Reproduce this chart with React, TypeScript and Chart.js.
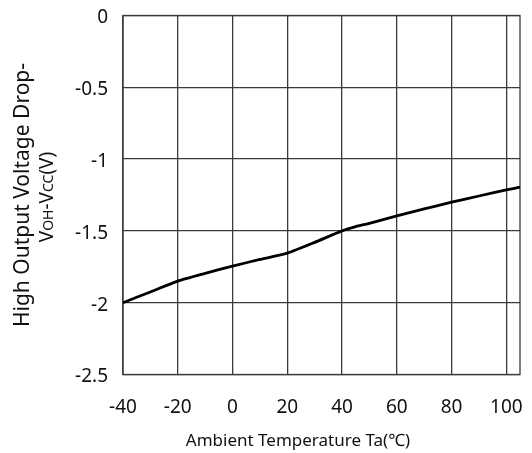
import React, { useEffect, useRef } from "react";
import { Chart, registerables } from "chart.js";

Chart.register(...registerables);

// ---- data ----
const temperatures = [-40, -30, -20, -10, 0, 10, 20, 30, 40, 45, 50, 60, 70, 80, 90, 100, 105];
const voltageDrop = [-2.0, -1.925, -1.85, -1.796, -1.745, -1.699, -1.655, -1.58, -1.5, -1.47, -1.447, -1.395, -1.347, -1.3, -1.257, -1.215, -1.195];
const xTickValues = [-40, -20, 0, 20, 40, 60, 80, 100];
const yTickValues = [0, -0.5, -1, -1.5, -2, -2.5];
const xTitle = "Ambient Temperature Ta(℃)";
const yTitleLine1 = "High Output Voltage Drop-";
const yTitleLine2Parts: [string, boolean][] = [
  ["V", false],
  ["OH", true],
  ["-V", false],
  ["CC", true],
  ["(V)", false],
];

const FONT = '"Noto Sans", "Noto Sans CJK SC", sans-serif';
const TEXT = "#111111";
const GRID = "#3a3a3a";

const decorPlugin = {
  id: "decor",
  beforeDatasetsDraw(chart: any) {
    const { ctx, chartArea } = chart;
    ctx.save();
    ctx.strokeStyle = GRID;
    ctx.lineWidth = 1.3;
    ctx.strokeRect(chartArea.left, chartArea.top, chartArea.right - chartArea.left, chartArea.bottom - chartArea.top);
    ctx.restore();
  },
  afterDraw(chart: any) {
    const { ctx } = chart;
    ctx.save();
    ctx.fillStyle = TEXT;
    // x title
    ctx.font = `17px ${FONT}`;
    ctx.textAlign = "center";
    ctx.textBaseline = "alphabetic";
    ctx.fillText(xTitle, 298, 446);

    // y title line 1
    ctx.save();
    ctx.translate(29, 195);
    ctx.rotate(-Math.PI / 2);
    ctx.font = `21px ${FONT}`;
    ctx.textAlign = "center";
    ctx.fillText(yTitleLine1, 0, 0);
    ctx.restore();

    // y title line 2 (with subscripts)
    ctx.save();
    ctx.translate(53, 197);
    ctx.rotate(-Math.PI / 2);
    ctx.textAlign = "left";
    const big = `19px ${FONT}`;
    const small = `14px ${FONT}`;
    let total = 0;
    for (const [t, sub] of yTitleLine2Parts) {
      ctx.font = sub ? small : big;
      total += ctx.measureText(t).width;
    }
    let x = -total / 2;
    for (const [t, sub] of yTitleLine2Parts) {
      ctx.font = sub ? small : big;
      ctx.fillText(t, x, 0);
      x += ctx.measureText(t).width;
    }
    ctx.restore();
    ctx.restore();
  },
};

const zeroPadding = (scale: any) => {
  scale.paddingLeft = 0;
  scale.paddingRight = 0;
  scale.paddingTop = 0;
  scale.paddingBottom = 0;
};

export default function App() {
  const canvasRef = useRef<HTMLCanvasElement | null>(null);

  useEffect(() => {
    if (!canvasRef.current) return;
    const chart = new Chart(canvasRef.current, {
      type: "line",
      data: {
        datasets: [
          {
            data: temperatures.map((t, i) => ({ x: t, y: voltageDrop[i] })),
            borderColor: "#000000",
            borderWidth: 2.8,
            pointRadius: 0,
            tension: 0.2,
            fill: false,
          },
        ],
      },
      options: {
        animation: false,
        responsive: true,
        maintainAspectRatio: false,
        layout: { padding: { left: 0, right: 12, top: 15.5, bottom: 0 } },
        plugins: {
          legend: { display: false },
          tooltip: { enabled: false },
        },
        scales: {
          x: {
            type: "linear",
            min: -40,
            max: 105,
            afterBuildTicks: (scale: any) => {
              scale.ticks = xTickValues.map((v) => ({ value: v }));
            },
            afterFit: (scale: any) => {
              scale.height = 78.5;
              zeroPadding(scale);
            },
            grid: { color: GRID, lineWidth: 1.3, drawTicks: false },
            border: { display: false },
            ticks: {
              padding: 22,
              color: TEXT,
              font: { family: FONT, size: 19 },
              maxRotation: 0,
              callback: (v: any) => String(v),
            },
          },
          y: {
            type: "linear",
            min: -2.5,
            max: 0,
            afterBuildTicks: (scale: any) => {
              scale.ticks = yTickValues.map((v) => ({ value: v }));
            },
            afterFit: (scale: any) => {
              scale.width = 123;
              zeroPadding(scale);
            },
            grid: { color: GRID, lineWidth: 1.3, drawTicks: false },
            border: { display: false },
            ticks: {
              padding: 15,
              labelOffset: 2.5,
              color: TEXT,
              font: { family: FONT, size: 19 },
              callback: (v: any) => String(v),
            },
          },
        },
      },
      plugins: [decorPlugin],
    });
    return () => chart.destroy();
  }, []);

  return (
    <div style={{ position: "absolute", left: 0, top: 0, width: 532, height: 453, background: "#fff" }}>
      <canvas ref={canvasRef} />
    </div>
  );
}
